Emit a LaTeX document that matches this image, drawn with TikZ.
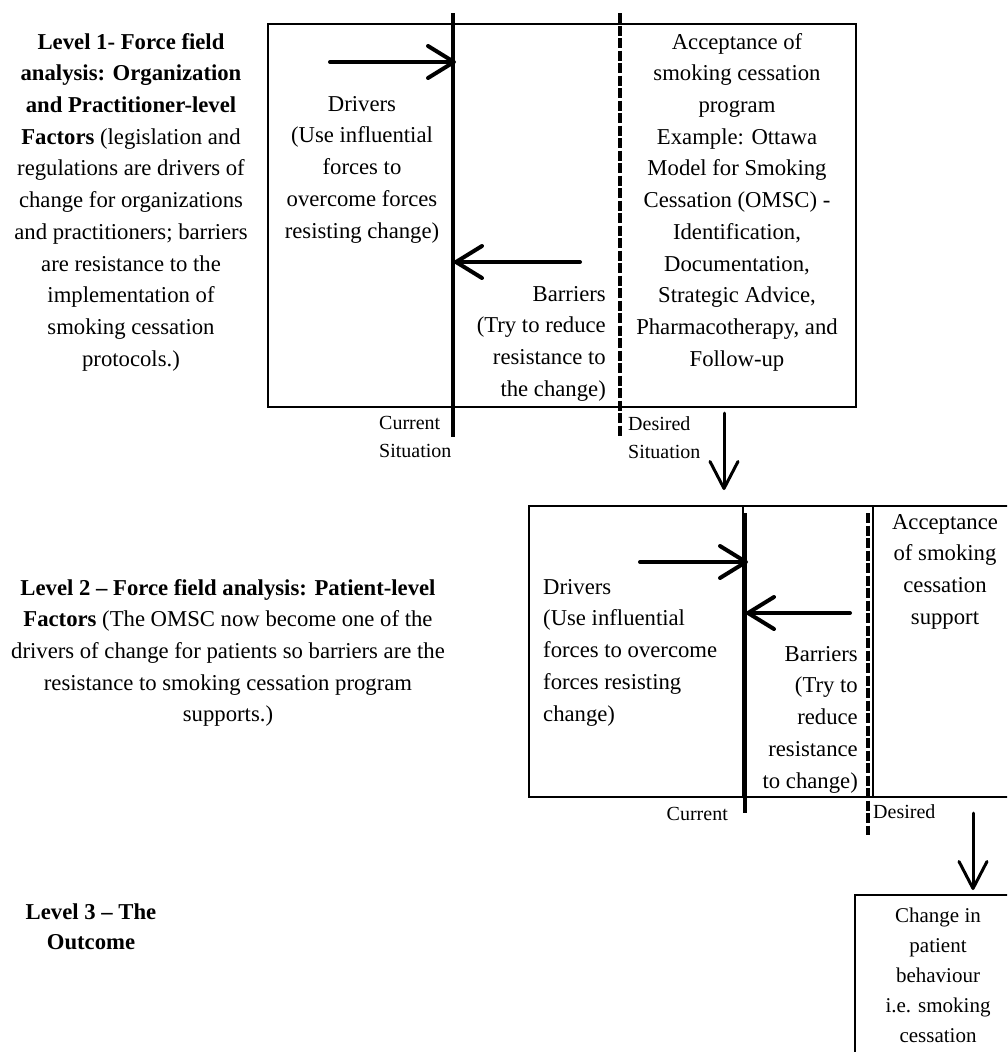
\documentclass[tikz,border=0pt]{standalone}
\usepackage{fontspec}
\setmainfont{Liberation Serif}
\usetikzlibrary{arrows.meta}
\begin{document}
\begin{tikzpicture}[x=1pt,y=-1pt,
  txt/.style={inner sep=0pt, font=\fontsize{22.7}{31.7}\selectfont},
  lbl/.style={inner sep=0pt, font=\fontsize{20}{28}\selectfont},
  frame/.style={draw, line width=2pt, inner sep=0pt, anchor=north west},
  thin/.style={line width=1.6pt},
  curline/.style={line width=4pt},
  desline/.style={line width=3.5pt, dash pattern=on 10pt off 2.5pt},
  force/.style={line width=4pt, line cap=round, -{Straight Barb[round,length=26pt,width=32pt,line width=4pt]}},
  flow/.style={line width=3pt, line cap=round, -{Straight Barb[round,length=27pt,width=28pt,line width=3pt]}}
]
\useasboundingbox (0,0) rectangle (1007,1052);
\clip (0,0) rectangle (1007,1052);

% ---------- Level 1 ----------
\node[txt, anchor=north, align=center] (lvl1) at (131,33)
  {\textbf{Level 1- Force field}\\
   \textbf{analysis: Organization}\\
   \textbf{and Practitioner-level}\\
   \textbf{Factors} (legislation and\\
   regulations are drivers of\\
   change for organizations\\
   and practitioners; barriers\\
   are resistance to the\\
   implementation of\\
   smoking cessation\\
   protocols.)};

\node[frame, minimum width=588pt, minimum height=383pt] (box1) at (267,23) {};

\coordinate (c1t) at (453,13);
\coordinate (c1b) at (453,437);
\coordinate (d1t) at (620,13);
\coordinate (d1b) at (620,437);
\draw[curline] (c1t) -- (c1b);
\draw[desline] (d1t) -- (d1b);

\coordinate (f1s) at (330,62);
\coordinate (f1e) at (456,62);
\coordinate (b1s) at (580,262);
\coordinate (b1e) at (454,262);
\draw[force] (f1s) -- (f1e);
\draw[force] (b1s) -- (b1e);

\node[txt, anchor=north, align=center] (drv1) at (362,96)
  {Drivers\\(Use influential\\forces to\\overcome forces\\resisting change)};
\node[txt, anchor=north east, align=right] (bar1) at (606,286)
  {Barriers\\(Try to reduce\\resistance to\\the change)};
\node[txt, anchor=north, align=center] (acc1) at (737,33)
  {Acceptance of\\smoking cessation\\program\\Example: Ottawa\\Model for Smoking\\Cessation (OMSC) -\\Identification,\\Documentation,\\Strategic Advice,\\Pharmacotherapy, and\\Follow-up};

\node[lbl, anchor=north west, align=left] (cur1) at (379,416) {Current\\Situation};
\node[lbl, anchor=north west, align=left] (des1) at (628,416) {Desired\\Situation};

\coordinate (a1s) at (724,413);
\coordinate (a1e) at (724,490);
\draw[flow] (a1s) -- (a1e);

% ---------- Level 2 ----------
\node[txt, anchor=north, align=center] (lvl2) at (228,579)
  {\textbf{Level 2 – Force field analysis: Patient-level}\\
   \textbf{Factors} (The OMSC now become one of the\\
   drivers of change for patients so barriers are the\\
   resistance to smoking cessation program\\
   supports.)};

\node[frame, minimum width=490pt, minimum height=291pt] (box2) at (528,505) {};
\coordinate (s2t) at (743,505);
\coordinate (s2b) at (743,796);
\coordinate (s3t) at (873,505);
\coordinate (s3b) at (873,796);
\draw[thin] (s2t) -- (s2b);
\draw[thin] (s3t) -- (s3b);

\coordinate (c2t) at (745,513);
\coordinate (c2b) at (745,813);
\coordinate (d2t) at (868,513);
\coordinate (d2b) at (868,835);
\draw[curline] (c2t) -- (c2b);
\draw[desline] (d2t) -- (d2b);

\coordinate (f2s) at (640,562);
\coordinate (f2e) at (748,562);
\coordinate (b2s) at (850,613);
\coordinate (b2e) at (746,613);
\draw[force] (f2s) -- (f2e);
\draw[force] (b2s) -- (b2e);

\node[txt, anchor=north west, align=left] (drv2) at (543,579)
  {Drivers\\(Use influential\\forces to overcome\\forces resisting\\change)};
\node[txt, anchor=north east, align=right] (bar2) at (858,646)
  {Barriers\\(Try to\\reduce\\resistance\\to change)};
\node[txt, anchor=north, align=center] (acc2) at (945,514)
  {Acceptance\\of smoking\\cessation\\support};

\node[lbl, anchor=north east] (cur2) at (728,807) {Current};
\node[lbl, anchor=north west] (des2) at (873,804) {Desired};

\coordinate (a2s) at (973,813);
\coordinate (a2e) at (973,890);
\draw[flow] (a2s) -- (a2e);

% ---------- Level 3 ----------
\node[txt, anchor=north, align=center, font=\fontsize{22.7}{30}\selectfont] (lvl3) at (91,904)
  {\textbf{Level 3 – The}\\\textbf{Outcome}};

\node[frame, minimum width=170pt, minimum height=170pt] (box3) at (854,894) {};
\node[txt, anchor=north, align=center, font=\fontsize{21}{30}\selectfont] (out3) at (938,908)
  {Change in\\patient\\behaviour\\i.e. smoking\\cessation};
\end{tikzpicture}
\end{document}
